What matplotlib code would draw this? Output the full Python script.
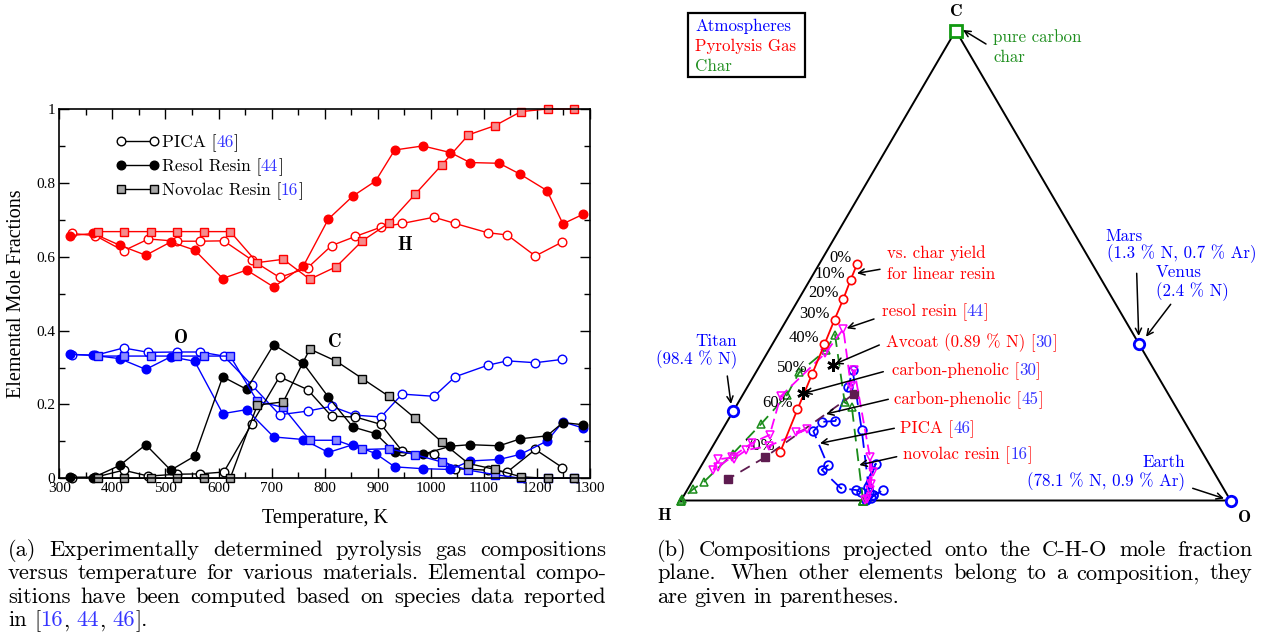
import re
import numpy as np
import matplotlib
matplotlib.use("Agg")
import matplotlib.pyplot as plt
from matplotlib.font_manager import FontProperties
from matplotlib.lines import Line2D
from matplotlib.patches import Rectangle, FancyArrowPatch
from matplotlib.transforms import IdentityTransform
from matplotlib.ticker import MultipleLocator

W, H = 1263, 635

RED, BLUE, BLACK = "#ff0000", "#0000ff", "#000000"
GREEN = "#1f8f1f"
REF = "#3535ff"
MAGENTA = "#ff00ff"
PURPLE = "#5e1b50"

# -----------------------------
# data, panel (a): elemental mole fractions vs temperature
# -----------------------------
pica_T = [324, 368, 421, 468, 521, 565, 610, 663, 715, 768, 813, 858, 906, 946,
          1006, 1046, 1107, 1144, 1197, 1248]
pica_H = [0.663, 0.657, 0.616, 0.648, 0.642, 0.642, 0.643, 0.591, 0.544, 0.570,
          0.630, 0.655, 0.680, 0.690, 0.707, 0.690, 0.665, 0.659, 0.602, 0.640]
pica_O = [0.335, 0.333, 0.353, 0.341, 0.342, 0.342, 0.331, 0.252, 0.172, 0.182,
          0.195, 0.171, 0.166, 0.228, 0.222, 0.275, 0.306, 0.318, 0.313, 0.322]
pica_C = [0.002, 0.003, 0.022, 0.006, 0.011, 0.012, 0.017, 0.148, 0.275, 0.240,
          0.168, 0.166, 0.146, 0.074, 0.065, 0.026, 0.022, 0.017, 0.078, 0.029]

resol_T = [320, 364, 414, 463, 510, 555, 608, 653, 704, 760, 807, 853, 896, 932,
           985, 1037, 1074, 1129, 1169, 1219, 1249, 1287]
resol_H = [0.657, 0.663, 0.631, 0.604, 0.640, 0.618, 0.541, 0.564, 0.518, 0.575,
           0.702, 0.764, 0.805, 0.889, 0.900, 0.882, 0.855, 0.853, 0.823, 0.779,
           0.689, 0.715]
resol_O = [0.336, 0.333, 0.324, 0.295, 0.329, 0.317, 0.175, 0.186, 0.112, 0.105,
           0.070, 0.091, 0.067, 0.031, 0.026, 0.024, 0.047, 0.051, 0.065, 0.101,
           0.153, 0.136]
resol_C = [0.003, 0.002, 0.035, 0.091, 0.022, 0.060, 0.275, 0.241, 0.362, 0.311,
           0.220, 0.139, 0.121, 0.071, 0.065, 0.087, 0.091, 0.088, 0.107, 0.115,
           0.151, 0.145]

novo_T = [372, 422, 472, 522, 572, 622, 673, 722, 772, 822, 871, 921, 971, 1021,
          1071, 1121, 1170, 1220, 1270]
novo_H = [0.668, 0.668, 0.668, 0.668, 0.668, 0.668, 0.584, 0.593, 0.539, 0.573,
          0.643, 0.691, 0.770, 0.849, 0.930, 0.955, 0.993, 1.000, 1.000]
novo_O = [0.331, 0.331, 0.331, 0.331, 0.331, 0.331, 0.209, 0.192, 0.103, 0.103,
          0.078, 0.080, 0.064, 0.044, 0.022, 0.010, 0.000, 0.000, 0.000]
novo_C = [0.000, 0.000, 0.000, 0.000, 0.000, 0.000, 0.198, 0.207, 0.350, 0.317,
          0.270, 0.222, 0.162, 0.098, 0.040, 0.024, 0.004, 0.000, 0.000]

x_ticks = [300, 400, 500, 600, 700, 800, 900, 1000, 1100, 1200, 1300]
y_ticks = [0, 0.2, 0.4, 0.6, 0.8, 1.0]
y_ticklabels = ["0", "0.2", "0.4", "0.6", "0.8", "1"]

# -----------------------------
# data, panel (b): C-H-O compositions (mole fractions C, O; H is the rest)
# -----------------------------
yield_pct = [0, 10, 20, 30, 40, 50, 60, 70]
yield_C = [0.503, 0.469, 0.429, 0.385, 0.332, 0.270, 0.194, 0.103]
yield_O = [0.069, 0.074, 0.081, 0.087, 0.095, 0.104, 0.115, 0.129]

cp45_C = [0.226, 0.092, 0.046]
cp45_O = [0.201, 0.107, 0.063]

avcoat_CO = (0.288, 0.132)
cp30_CO = (0.229, 0.108)

atm_names = ["Titan", "Mars/Venus", "Earth"]
atm_C = [0.19, 0.333, 0.0]
atm_O = [0.0, 0.667, 1.0]

char_CO = (1.0, 0.0)

# -----------------------------
# helpers
# -----------------------------
fig = plt.figure(figsize=(W / 100, H / 100), dpi=100)
rend = fig.canvas.get_renderer()
PIX = IdentityTransform()


def tw(s, prop):
    if not s:
        return 0.0
    return rend.get_text_width_height_descent(s, prop, ismath=False)[0]


def put_parts(x, yc, parts, size=12.2, family="cmr10", ha="left"):
    """multi-colour text; x, yc in pixels from top-left, yc = centre of caps"""
    prop = FontProperties(family=family, size=size)
    full = "".join(p[0] for p in parts)
    total = tw(full, prop)
    if ha == "right":
        x0 = x - total
    elif ha == "center":
        x0 = x - total / 2
    else:
        x0 = x
    base = yc + 0.34 * size * 100 / 72
    pre = ""
    for s, c in parts:
        off = tw(pre + s[0], prop) - tw(s[0], prop) if pre else 0.0
        fig.text(x0 + off, H - base, s, color=c, fontproperties=prop,
                 transform=PIX, ha="left", va="baseline")
        pre += s


def word_parts(word, color="k"):
    # citation numbers in blue, everything else in the text colour
    parts, cur, isnum = [], "", None
    for ch in word:
        d = ch.isdigit()
        if isnum is not None and d != isnum:
            parts.append((cur, REF if isnum else color))
            cur = ""
        cur += ch
        isnum = d
    parts.append((cur, REF if isnum else color))
    return parts


def natural_width(text, size):
    prop = FontProperties(family="cmr10", size=size)
    words = text.split()
    sp = tw("a a", prop) - tw("aa", prop)
    return sum(tw(w, prop) for w in words) + sp * (len(words) - 1)


def put_line(x0, x1, yc, text, size, justify=True):
    prop = FontProperties(family="cmr10", size=size)
    tokens = re.split(r"( +)", text.strip())
    words = tokens[0::2]
    weights = [1.0 if len(s) == 1 else 1.6 for s in tokens[1::2]]
    widths = [tw(w, prop) for w in words]
    sp = tw("a a", prop) - tw("aa", prop)
    unit = (x1 - x0 - sum(widths)) / sum(weights) if (justify and weights) else sp
    x = x0
    for i, (w, wd) in enumerate(zip(words, widths)):
        put_parts(x, yc, word_parts(w), size=size)
        if i < len(weights):
            x += wd + unit * weights[i]


def arrow(tail, head):
    fig.add_artist(FancyArrowPatch(
        (tail[0], H - tail[1]), (head[0], H - head[1]), transform=PIX,
        arrowstyle="->", mutation_scale=11, lw=1.1, color="k",
        shrinkA=0, shrinkB=0))


# -----------------------------
# panel (a)
# -----------------------------
ax1 = fig.add_axes([59.3 / W, 1 - 478.3 / H, (590 - 59.3) / W, (478.3 - 109) / H])

light = {RED: "#f58c8c", BLUE: "#8c8cff", BLACK: "#a8a8a8"}
for T, Hs, Os, Cs, style in [(pica_T, pica_H, pica_O, pica_C, "open"),
                             (resol_T, resol_H, resol_O, resol_C, "filled"),
                             (novo_T, novo_H, novo_O, novo_C, "square")]:
    for vals, col in [(Hs, RED), (Os, BLUE), (Cs, BLACK)]:
        if style == "open":
            kw = dict(marker="o", ms=6.2, mfc="white", mec=col, mew=1.0)
        elif style == "filled":
            kw = dict(marker="o", ms=6.2, mfc=col, mec=col)
        else:
            kw = dict(marker="s", ms=5.2, mfc=light[col], mec=col, mew=1.0)
        ax1.plot(T, vals, color=col, lw=1.0, clip_on=False, **kw)

ax1.set_xlim(300, 1300)
ax1.set_ylim(0, 1)
ax1.set_xticks(x_ticks)
ax1.set_yticks(y_ticks)
ax1.set_yticklabels(y_ticklabels)
ax1.xaxis.set_minor_locator(MultipleLocator(50))
ax1.yaxis.set_minor_locator(MultipleLocator(0.1))
ax1.tick_params(which="both", direction="in", top=True, right=True, width=1.0)
ax1.tick_params(which="major", length=7, pad=3)
ax1.tick_params(which="minor", length=4)
for lab in ax1.get_xticklabels() + ax1.get_yticklabels():
    lab.set_fontfamily("Liberation Serif")
    lab.set_fontsize(11)
for sp in ax1.spines.values():
    sp.set_linewidth(1.2)

ax1.set_xlabel("Temperature, K", fontfamily="Liberation Serif", fontsize=14.5)
ax1.xaxis.set_label_coords(0.5, -0.082)
ax1.set_ylabel("Elemental Mole Fractions", fontfamily="Liberation Serif",
               fontsize=14.5)
ax1.yaxis.set_label_coords(-0.062, 0.5)

for lab, xy in [("H", (950, 0.631)), ("O", (529, 0.379)), ("C", (820, 0.369))]:
    ax1.text(*xy, lab, fontfamily="cmb10", fontsize=13.5, ha="center", va="center")

# legend drawn by hand (blue citation numbers)
leg = [("PICA [", "46", dict(marker="o", mfc="white", mec="k", ms=6.2)),
       ("Resol Resin [", "44", dict(marker="o", mfc="k", mec="k", ms=6.2)),
       ("Novolac Resin [", "16", dict(marker="s", mfc="#a8a8a8", mec="k", ms=5.2))]
for i, (txt, ref, mk) in enumerate(leg):
    yc = 141 + 24 * i
    fig.add_artist(Line2D([121, 154], [H - yc, H - yc], transform=PIX,
                          color="k", lw=1.0, **mk))
    put_parts(161.7, yc, [(txt, "k"), (ref, REF), ("]", "k")], size=12.5)

# -----------------------------
# panel (b): ternary C-H-O
# -----------------------------
HX, BY, S = 681.0, 500.5, 549.5
h_tri = 470.0 / S
ax2 = fig.add_axes([640 / W, 0, (W - 640) / W, 1])
ax2.set_xlim((640 - HX) / S, (W - HX) / S)
ax2.set_ylim((BY - H) / S, BY / S)
ax2.axis("off")


def tern(c, o):
    c = np.asarray(c, dtype=float)
    o = np.asarray(o, dtype=float)
    return o + c / 2, c * h_tri


def tern_norm(Cs, Hs, Os):
    Cs, Hs, Os = (np.asarray(a, dtype=float) for a in (Cs, Hs, Os))
    s = Cs + Hs + Os
    return tern(Cs / s, Os / s)


ax2.plot([0, 1, 0.5, 0], [0, 0, h_tri, 0], color="k", lw=1.4, zorder=1)

# pyrolysis gas of the three materials of panel (a)
x, y = tern_norm(pica_C, pica_H, pica_O)
ax2.plot(x, y, color=BLUE, lw=1.3, dashes=(8, 4), marker="o", ms=6.2,
         mfc="none", mec=BLUE, mew=1.3, clip_on=False, zorder=3)
x, y = tern_norm(novo_C, novo_H, novo_O)
ax2.plot(x, y, color="#1a8c1a", lw=1.3, dashes=(7, 4), marker="^", ms=6,
         mfc="none", mec="#1a8c1a", mew=1.1, clip_on=False, zorder=3)
x, y = tern_norm(resol_C, resol_H, resol_O)
ax2.plot(x, y, color=MAGENTA, lw=1.3, dashes=(6, 3), marker="v", ms=6,
         mfc="none", mec=MAGENTA, mew=1.1, clip_on=False, zorder=4)

# carbon-phenolic [45]
x, y = tern(cp45_C, cp45_O)
ax2.plot(x, y, color=PURPLE, lw=1.3, dashes=(6, 4), marker="s", ms=6,
         mfc=PURPLE, mec=PURPLE, zorder=3)

# linear resin vs char yield
x, y = tern(yield_C, yield_O)
ax2.plot(x, y, color=RED, lw=1.3, marker="o", ms=6, mfc="white", mec=RED,
         mew=1.2, zorder=5)
for p, xi, yi in zip(yield_pct, x, y):
    ax2.annotate(f"{p}%", (xi, yi), xytext=(-5, 6), textcoords="offset pixels",
                 ha="right", va="center", fontfamily="Liberation Serif",
                 fontsize=12)

# Avcoat and carbon-phenolic [30]
for c, o in [avcoat_CO, cp30_CO]:
    ax2.plot(*tern(c, o), marker=(6, 2, 0), ms=9, mew=1.8, color="k", zorder=6)

# atmospheres and char
x, y = tern(atm_C, atm_O)
ax2.plot(x, y, ls="none", marker="o", ms=7.5, mfc="white", mec=BLUE, mew=2.0,
         clip_on=False, zorder=6)
ax2.plot(*tern(*char_CO), marker="s", ms=8, mfc="white", mec="#119911", mew=2.0,
         clip_on=False, zorder=6)

# vertex labels
for lab, xy in [("C", (956, 12)), ("H", (664, 516)), ("O", (1245, 517))]:
    fig.text(xy[0], H - xy[1], lab, transform=PIX, fontfamily="cmb10",
             fontsize=12.5, ha="center", va="center")

# key box
fig.add_artist(Rectangle((688, H - 77.3), 117, 64.6, transform=PIX,
                         fill=False, ec="k", lw=1.6))
for i, (txt, col) in enumerate([("Atmospheres", BLUE), ("Pyrolysis Gas", RED),
                                ("Char", GREEN)]):
    put_parts(695, 25 + 20 * i, [(txt, col)])

# annotations
put_parts(993, 36.7, [("pure carbon", GREEN)])
put_parts(993, 56.5, [("char", GREEN)])
arrow((986, 44), (963, 30))

put_parts(737, 340, [("Titan", BLUE)], ha="right")
put_parts(737, 358.3, [("(98.4 % N)", BLUE)], ha="right")
arrow((727.3, 376), (731, 404))

put_parts(1105, 235, [("Mars", BLUE)])
put_parts(1107, 252.3, [("(1.3 % N, 0.7 % Ar)", BLUE)])
arrow((1136.7, 273.3), (1138.7, 336))
put_parts(1156, 271.7, [("Venus", BLUE)])
put_parts(1156, 290, [("(2.4 % N)", BLUE)])
arrow((1170.7, 304.3), (1146, 336.7))

put_parts(1185, 461.7, [("Earth", BLUE)], ha="right")
put_parts(1185, 480, [("(78.1 % N, 0.9 % Ar)", BLUE)], ha="right")
arrow((1192.7, 488.3), (1224, 498.5))

put_parts(887, 252.7, [("vs. char yield", RED)])
put_parts(887, 273.3, [("for linear resin", RED)])
arrow((880, 269.3), (857, 273.3))

labels_b = [
    (881.7, 310.7, "resol resin [", "44", (874, 319), (846.7, 328.3)),
    (886, 341, "Avcoat (0.89 % N) [", "30", (879.3, 345), (835, 364)),
    (891.7, 369.3, "carbon-phenolic [", "30", (883.3, 371.7), (804, 393.3)),
    (894.3, 398.3, "carbon-phenolic [", "45", (888.3, 399.3), (826, 414)),
    (900, 427.3, "PICA [", "46", (894.3, 428.3), (820, 443.3)),
    (903.3, 453.3, "novolac resin [", "16", (896.7, 456.7), (859.3, 465)),
]
for lx, ly, txt, ref, tail, head in labels_b:
    put_parts(lx, ly, [(txt, RED), (ref, REF), ("]", RED)])
    arrow(tail, head)

# -----------------------------
# captions (justified)
# -----------------------------
cap_a = ["(a) Experimentally determined pyrolysis gas compositions",
         "versus temperature for various materials. Elemental compo-",
         "sitions have been computed based on species data reported",
         "in [16, 44, 46]."]
cap_b = ["(b) Compositions projected onto the C-H-O mole fraction",
         "plane.  When other elements belong to a composition, they",
         "are given in parentheses."]
fit = min((606 - 8) / natural_width(l, 10) for l in cap_a[:-1])
fit = min(fit, min((1252 - 657) / natural_width(l, 10) for l in cap_b[:-1]))
CAP_SIZE = 10 * fit * 0.985
for i, line in enumerate(cap_a):
    put_line(8, 606, 548 + 23.5 * i, line, CAP_SIZE, justify=i < len(cap_a) - 1)
for i, line in enumerate(cap_b):
    put_line(657, 1252, 548 + 23.5 * i, line, CAP_SIZE, justify=i < len(cap_b) - 1)

fig.savefig("out.png", dpi=100)
